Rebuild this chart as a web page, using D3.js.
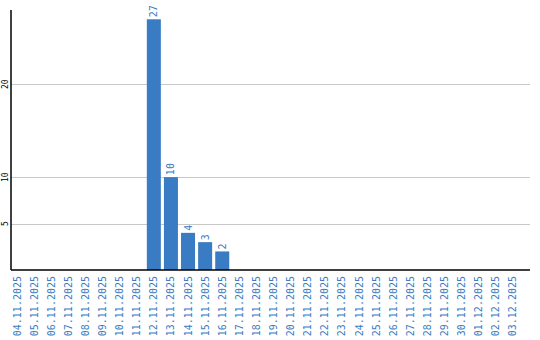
<!DOCTYPE html>
<html>
<head>
<meta charset="utf-8">
<script src="https://cdn.jsdelivr.net/npm/d3@7"></script>
<style>
  body { margin: 0; background: #fff; }
  svg { display: block; font-family: "DejaVu Sans Mono", monospace; }
</style>
</head>
<body>
<svg width="540" height="340"></svg>
<script>
const dates = [
  "04.11.2025", "05.11.2025", "06.11.2025", "07.11.2025", "08.11.2025",
  "09.11.2025", "10.11.2025", "11.11.2025", "12.11.2025", "13.11.2025",
  "14.11.2025", "15.11.2025", "16.11.2025", "17.11.2025", "18.11.2025",
  "19.11.2025", "20.11.2025", "21.11.2025", "22.11.2025", "23.11.2025",
  "24.11.2025", "25.11.2025", "26.11.2025", "27.11.2025", "28.11.2025",
  "29.11.2025", "30.11.2025", "01.12.2025", "02.12.2025", "03.12.2025"
];
const counts = [
  0, 0, 0, 0, 0, 0, 0, 0, 27, 10,
  4, 3, 2, 0, 0, 0, 0, 0, 0, 0,
  0, 0, 0, 0, 0, 0, 0, 0, 0, 0
];
const yTicks = [5, 10, 20];

const svg = d3.select("svg");
const plotLeft = 11, plotRight = 530, plotTop = 10, plotBottom = 270;
const barColor = "#3a7cc3";

const x = d3.scaleBand()
  .domain(dates)
  .range([10, 520])
  .paddingInner(0.18)
  .paddingOuter(0);

const y = d3.scaleLinear().domain([0, 28]).range([plotBottom, plotTop]);

// grid lines
svg.append("g")
  .selectAll("line")
  .data(yTicks)
  .join("line")
  .attr("x1", plotLeft)
  .attr("x2", plotRight)
  .attr("y1", d => Math.round(y(d)) + 0.5)
  .attr("y2", d => Math.round(y(d)) + 0.5)
  .attr("stroke", "#c8c8c8");

// y tick labels (rotated)
svg.append("g")
  .selectAll("text")
  .data(yTicks)
  .join("text")
  .attr("transform", d => `translate(5,${y(d)}) rotate(-90)`)
  .attr("text-anchor", "middle")
  .attr("dy", "0.35em")
  .attr("font-size", 8)
  .attr("fill", "#000")
  .text(d => d);

// bars
svg.append("g")
  .selectAll("rect")
  .data(counts)
  .join("rect")
  .attr("x", (d, i) => x(dates[i]))
  .attr("width", x.bandwidth())
  .attr("y", d => y(d))
  .attr("height", d => y(0) - y(d))
  .attr("fill", barColor);

// value labels
svg.append("g")
  .selectAll("text")
  .data(counts.map((v, i) => ({ v, d: dates[i] })).filter(o => o.v > 0))
  .join("text")
  .attr("transform", o => `translate(${x(o.d) + x.bandwidth() / 2},${y(o.v) - 2}) rotate(-90)`)
  .attr("dy", "0.35em")
  .attr("font-size", 10)
  .attr("fill", barColor)
  .text(o => o.v);

// axes
svg.append("line")
  .attr("x1", plotLeft).attr("x2", plotLeft)
  .attr("y1", plotTop).attr("y2", plotBottom)
  .attr("stroke", "#000").attr("stroke-width", 1.5);
svg.append("line")
  .attr("x1", plotLeft).attr("x2", plotRight)
  .attr("y1", plotBottom).attr("y2", plotBottom)
  .attr("stroke", "#000").attr("stroke-width", 1.5);

// date labels
svg.append("g")
  .selectAll("text")
  .data(dates)
  .join("text")
  .attr("transform", d => `translate(${x(d) + x.bandwidth() / 2},276) rotate(-90)`)
  .attr("text-anchor", "end")
  .attr("dy", "0.35em")
  .attr("font-size", 10)
  .attr("fill", barColor)
  .text(d => d);
</script>
</body>
</html>
